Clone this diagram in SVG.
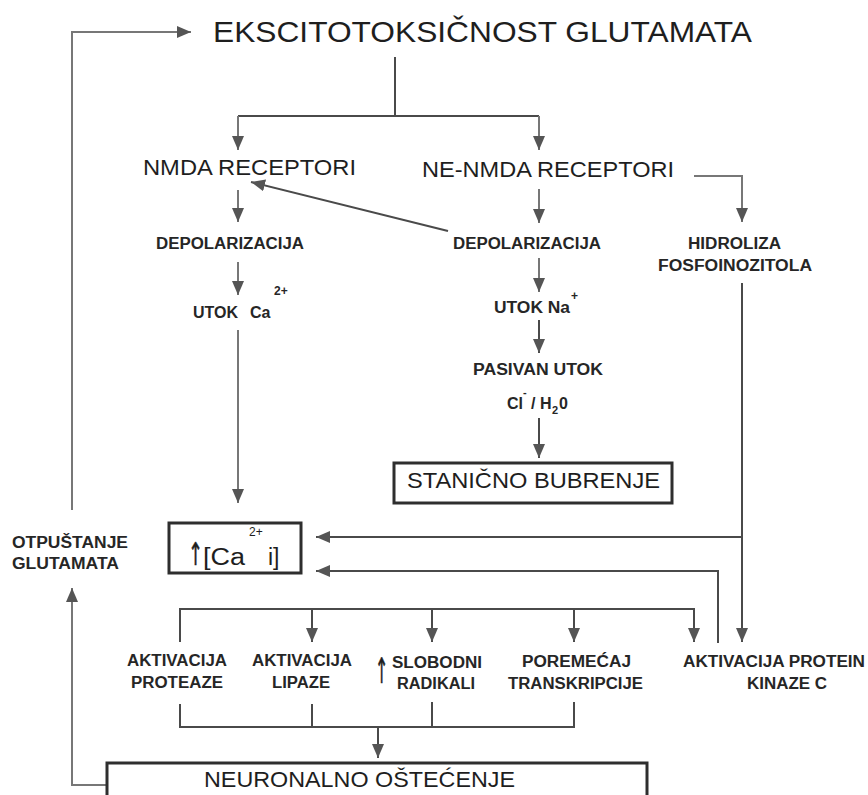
<svg xmlns="http://www.w3.org/2000/svg" width="868" height="795" viewBox="0 0 868 795">
<style>
.t{font-family:"Liberation Sans",Arial,"DejaVu Sans",sans-serif;fill:#1e1e1e}
.s{font-size:16px;font-weight:bold;fill:#262626}
.m{font-size:22px}
.ar{font-family:"DejaVu Sans","Liberation Sans",sans-serif;fill:#1e1e1e;stroke:#1e1e1e;stroke-width:0.3;font-weight:normal}
.c{fill:none;stroke:#4a4a4a;stroke-width:2}
.g{stroke:#777}
.b{fill:#fff;stroke:#2e2e2e;stroke-width:3}
</style>
<defs>
<marker id="ah" viewBox="0 0 14 12" markerWidth="14" markerHeight="12" refX="14" refY="6" orient="auto" markerUnits="userSpaceOnUse">
<path d="M0,0 L14,6 L0,12 z" fill="#555"/>
</marker>
</defs>
<rect width="868" height="795" fill="#fff"/>
<g id="connectors">
<path class="c g" d="M72,510 V32 H191" marker-end="url(#ah)"/>
<path class="c" d="M395,57 V116"/>
<path class="c" d="M238,116 H539"/>
<path class="c g" d="M238,116 V150" marker-end="url(#ah)"/>
<path class="c g" d="M539,116 V150" marker-end="url(#ah)"/>
<path class="c g" d="M694,176 H742 V222" marker-end="url(#ah)"/>
<path class="c" d="M448,231 L251,182" marker-end="url(#ah)"/>
<path class="c g" d="M238,190 V222" marker-end="url(#ah)"/>
<path class="c g" d="M238,262 V295" marker-end="url(#ah)"/>
<path class="c g" d="M238,330 V503" marker-end="url(#ah)"/>
<path class="c g" d="M539,189 V223" marker-end="url(#ah)"/>
<path class="c g" d="M539,258 V292" marker-end="url(#ah)"/>
<path class="c" d="M539,320 V353" marker-end="url(#ah)"/>
<path class="c" d="M539,418 V458" marker-end="url(#ah)"/>
<path class="c" d="M742,283 V642" marker-end="url(#ah)"/>
<path class="c" d="M742,537 H316" marker-end="url(#ah)"/>
<path class="c" d="M718,643 V571 H316" marker-end="url(#ah)"/>
<path class="c" d="M180,642 V609 H694 V642" marker-end="url(#ah)"/>
<path class="c" d="M312,609 V642" marker-end="url(#ah)"/>
<path class="c" d="M432,609 V642" marker-end="url(#ah)"/>
<path class="c" d="M574,609 V642" marker-end="url(#ah)"/>
<path class="c" d="M180,704 V727 H574 V702"/>
<path class="c" d="M312,704 V727"/>
<path class="c" d="M432,702 V727"/>
<path class="c" d="M378,727 V758" marker-end="url(#ah)"/>
<path class="c g" d="M107,785 H72 V588" marker-end="url(#ah)"/>
</g>
<g id="title"><text class="t" x="213" y="42" font-size="29" textLength="539" lengthAdjust="spacingAndGlyphs">EKSCITOTOKSIČNOST GLUTAMATA</text></g>
<g id="nmda"><text class="t m" x="143" y="175" textLength="213" lengthAdjust="spacingAndGlyphs">NMDA RECEPTORI</text></g>
<g id="nenmda"><text class="t m" x="422" y="177" textLength="252" lengthAdjust="spacingAndGlyphs">NE-NMDA RECEPTORI</text></g>
<g id="depol1"><text class="t s" x="156" y="249" textLength="148" lengthAdjust="spacingAndGlyphs">DEPOLARIZACIJA</text></g>
<g id="depol2"><text class="t s" x="453" y="249" textLength="148" lengthAdjust="spacingAndGlyphs">DEPOLARIZACIJA</text></g>
<g id="hidroliza"><text class="t s" x="688" y="249" textLength="93" lengthAdjust="spacingAndGlyphs">HIDROLIZA</text><text class="t s" x="658" y="271" textLength="154" lengthAdjust="spacingAndGlyphs">FOSFOINOZITOLA</text></g>
<g id="utokca"><text class="t s" x="193" y="318">UTOK<tspan x="250">Ca</tspan><tspan x="274" y="295" font-size="12">2+</tspan></text></g>
<g id="utokna"><text class="t s" x="494" y="313"><tspan textLength="76" lengthAdjust="spacingAndGlyphs">UTOK Na</tspan><tspan x="571" y="300" font-size="12">+</tspan></text></g>
<g id="pasivan"><text class="t s" x="473" y="375" textLength="130" lengthAdjust="spacingAndGlyphs">PASIVAN UTOK</text><text class="t s" x="507" y="409">Cl<tspan x="523" y="396" font-size="11">-</tspan><tspan x="531" y="409">/ H</tspan><tspan x="552" y="414" font-size="11">2</tspan><tspan x="559" y="409">0</tspan></text></g>
<g id="bubrenje"><rect class="b" x="394" y="463" width="278" height="40"/><text class="t m" x="407" y="488" textLength="253" lengthAdjust="spacingAndGlyphs">STANIČNO BUBRENJE</text></g>
<g id="otpustanje"><text class="t s" x="12" y="548" textLength="116" lengthAdjust="spacingAndGlyphs">OTPUŠTANJE</text><text class="t s" x="12" y="569" textLength="107" lengthAdjust="spacingAndGlyphs">GLUTAMATA</text></g>
<g id="ca"><rect class="b" x="169" y="523" width="132" height="50"/><text class="ar" font-size="18" transform="translate(188,565) scale(1,1.75)">↑</text><text class="t" x="203" y="565" font-size="23"><tspan textLength="42" lengthAdjust="spacingAndGlyphs">[Ca</tspan><tspan x="249" y="536" font-size="12">2+</tspan><tspan x="268" y="565">i]</tspan></text></g>
<g id="proteaze"><text class="t s" x="127" y="666" textLength="100" lengthAdjust="spacingAndGlyphs">AKTIVACIJA</text><text class="t s" x="131" y="688" textLength="92" lengthAdjust="spacingAndGlyphs">PROTEAZE</text></g>
<g id="lipaze"><text class="t s" x="252" y="666" textLength="100" lengthAdjust="spacingAndGlyphs">AKTIVACIJA</text><text class="t s" x="272" y="688" textLength="58" lengthAdjust="spacingAndGlyphs">LIPAZE</text></g>
<g id="radikali"><text class="ar" font-size="16" transform="translate(375,683) scale(1,2.2)">↑</text><text class="t s" x="392" y="668" textLength="90" lengthAdjust="spacingAndGlyphs">SLOBODNI</text><text class="t s" x="397" y="689" textLength="78" lengthAdjust="spacingAndGlyphs">RADIKALI</text></g>
<g id="transkripcija"><text class="t s" x="522" y="667" textLength="109" lengthAdjust="spacingAndGlyphs">POREMEĆAJ</text><text class="t s" x="508" y="689" textLength="135" lengthAdjust="spacingAndGlyphs">TRANSKRIPCIJE</text></g>
<g id="kinaza"><text class="t s" x="683" y="667" textLength="182" lengthAdjust="spacingAndGlyphs">AKTIVACIJA PROTEIN</text><text class="t s" x="747" y="689" textLength="80" lengthAdjust="spacingAndGlyphs">KINAZE C</text></g>
<g id="neuronalno"><rect class="b" x="107" y="763" width="540" height="45"/><text class="t m" x="204" y="787" textLength="311" lengthAdjust="spacingAndGlyphs">NEURONALNO OŠTEĆENJE</text></g>
</svg>
